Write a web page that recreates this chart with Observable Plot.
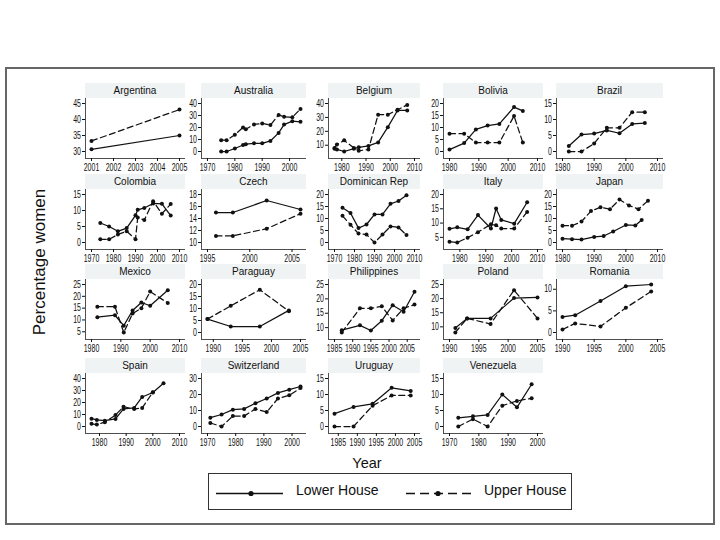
<!DOCTYPE html>
<html><head><meta charset="utf-8">
<script src="https://cdn.jsdelivr.net/npm/d3@7"></script>
<script src="https://cdn.jsdelivr.net/npm/@observablehq/plot@0.6"></script>
<style>
body{margin:0;background:#fff;}
#root{position:relative;width:720px;height:540px;font-family:"Liberation Sans",Arial,sans-serif;overflow:hidden;background:#fff;}
.outer{position:absolute;left:5px;top:67px;width:710px;height:458px;border:2px solid #666;box-sizing:border-box;}
.strip{position:absolute;background:#eff3f4;font-size:10px;text-align:center;line-height:15px;height:15px;color:#111;white-space:nowrap;}
.panel{position:absolute;}
.panel svg{max-width:none;overflow:visible;}
.ylab{position:absolute;left:40px;top:262px;transform:translate(-50%,-50%) rotate(-90deg);font-size:17px;white-space:nowrap;color:#111;}
.xlab{position:absolute;left:367px;top:463px;transform:translate(-50%,-50%);font-size:14.5px;color:#111;}
.legend{position:absolute;left:208px;top:473px;width:364px;height:37px;border:1px solid #333;box-sizing:border-box;}
.legtext{position:absolute;top:8px;font-size:14px;color:#111;}
</style></head>
<body>
<div id="root">
  <div class="outer"></div>
</div>
<script>
// ---- data: [year, % women] ----
const argentinaLower = [[2001,30.7],[2005,35.0]];
const argentinaUpper = [[2001,33.3],[2005,43.1]];
const australiaLower = [[1975,0],[1977,0],[1980,2.5],[1983,5.4],[1984,6.1],[1987,6.8],[1990,6.8],[1993,8.8],[1996,15.5],[1998,22.4],[2001,25.3],[2004,24.7]];
const australiaUpper = [[1975,9.4],[1977,9.4],[1980,14],[1983,20],[1984,18.5],[1987,22.5],[1990,23.4],[1993,22],[1996,30.5],[1998,28.9],[2001,28.5],[2004,35.5]];
const belgiumLower = [[1977,7.5],[1978,7],[1981,5.5],[1985,7.5],[1987,8.5],[1991,9.5],[1995,12],[1999,23],[2003,35],[2007,35]];
const belgiumUpper = [[1977,8],[1978,10.5],[1981,13.5],[1985,8],[1987,6],[1991,7],[1995,32],[1999,32],[2003,35.5],[2007,39]];
const boliviaLower = [[1980,0.8],[1985,3.5],[1989,9.2],[1993,10.8],[1997,11.5],[2002,18.5],[2005,16.9]];
const boliviaUpper = [[1980,7.4],[1985,7.4],[1989,3.7],[1993,3.7],[1997,3.7],[2002,14.8],[2005,3.7]];
const brazilLower = [[1982,1.7],[1986,5.3],[1990,5.6],[1994,6.6],[1998,5.7],[2002,8.6],[2006,8.9]];
const brazilUpper = [[1982,0],[1986,0],[1990,2.5],[1994,7.4],[1998,7.4],[2002,12.3],[2006,12.3]];
const colombiaLower = [[1974,6.1],[1978,5],[1982,3.5],[1986,4.5],[1990,8.5],[1991,10.2],[1994,10.8],[1998,12.2],[2002,12.1],[2006,8.4]];
const colombiaUpper = [[1974,1],[1978,1],[1982,2.5],[1986,3.5],[1990,1],[1991,7.8],[1994,7],[1998,12.9],[2002,9],[2006,12]];
const czechLower = [[1996,15],[1998,15],[2002,17],[2006,15.5]];
const czechUpper = [[1996,11.1],[1998,11.1],[2002,12.3],[2006,14.8]];
const dominicanLower = [[1974,14.5],[1978,12.3],[1982,6],[1986,7.5],[1990,11.7],[1994,11.7],[1998,16.1],[2002,17.3],[2006,19.7]];
const dominicanUpper = [[1974,11.1],[1978,7.4],[1982,3.7],[1986,3.3],[1990,0],[1994,3.3],[1998,6.7],[2002,6.3],[2006,3.1]];
const italyLower = [[1976,8],[1979,8.5],[1983,7.8],[1987,12.8],[1992,8.1],[1994,15.1],[1996,11.1],[2001,9.8],[2006,17.3]];
const italyUpper = [[1976,3.5],[1979,3.2],[1983,4.9],[1987,6.8],[1992,9.6],[1994,9.2],[1996,8.1],[2001,8.1],[2006,13.9]];
const japanLower = [[1980,1.6],[1983,1.4],[1986,1.2],[1990,2.3],[1993,2.7],[1996,4.6],[2000,7.3],[2003,7.1],[2005,9.4]];
const japanUpper = [[1980,7],[1983,7],[1986,8.7],[1989,13.1],[1992,14.7],[1995,13.9],[1998,17.9],[2001,15.4],[2004,13.9],[2007,17.4]];
const mexicoLower = [[1982,11.2],[1988,12],[1991,7.6],[1994,14],[1997,17.4],[2000,16],[2006,22.6]];
const mexicoUpper = [[1982,15.6],[1988,15.6],[1991,4.7],[1994,12.7],[1997,15],[2000,22],[2006,17.2]];
const paraguayLower = [[1989,5.6],[1993,2.5],[1998,2.5],[2003,9.2]];
const paraguayUpper = [[1989,5.6],[1993,11.1],[1998,17.8],[2003,8.9]];
const philippinesLower = [[1987,9.1],[1992,10.8],[1995,9],[1998,12.4],[2001,17.8],[2004,15.5],[2007,22.5]];
const philippinesUpper = [[1987,8.3],[1992,16.7],[1995,16.7],[1998,17.4],[2001,12.5],[2004,16.7],[2007,18]];
const polandLower = [[1991,9.6],[1993,13],[1997,13],[2001,20.2],[2005,20.4]];
const polandUpper = [[1991,8],[1993,13],[1997,11],[2001,23],[2005,13]];
const romaniaLower = [[1990,3.6],[1992,4],[1996,7.3],[2000,10.7],[2004,11.1]];
const romaniaUpper = [[1990,0.7],[1992,2.1],[1996,1.4],[2000,5.7],[2004,9.5]];
const spainLower = [[1977,6.5],[1979,5.5],[1982,4.8],[1986,6.3],[1989,14.6],[1993,15.5],[1996,24.6],[2000,28.3],[2004,36]];
const spainUpper = [[1977,2.2],[1979,1.6],[1982,3.6],[1986,9.5],[1989,16.5],[1993,14.5],[1996,15.5],[2000,28.5]];
const switzerlandLower = [[1971,5.5],[1975,7.5],[1979,10.5],[1983,11],[1987,14.5],[1991,17.5],[1995,21],[1999,23],[2003,25]];
const switzerlandUpper = [[1971,2.2],[1975,0],[1979,6.5],[1983,6.5],[1987,11],[1991,9],[1995,17.5],[1999,19.5],[2003,24]];
const uruguayLower = [[1984,4],[1989,6.1],[1994,7.1],[1999,12.1],[2004,11.1]];
const uruguayUpper = [[1984,0],[1989,0],[1994,6.5],[1999,9.7],[2004,9.7]];
const venezuelaLower = [[1973,2.7],[1978,3.2],[1983,3.6],[1988,10],[1993,6],[1998,13.2]];
const venezuelaUpper = [[1973,0],[1978,2.3],[1983,0],[1988,6.5],[1993,8],[1998,8.8]];

// ---- tick labels ----
const xt2001 = [2001,2002,2003,2004,2005];
const xt1970_2000 = [1970,1980,1990,2000];
const xt1970_2010 = [1970,1980,1990,2000,2010];
const xt1980_2010 = [1980,1990,2000,2010];
const xt1995_2005 = [1995,2000,2005];
const xt1990_2005 = [1990,1995,2000,2005];
const xt1985_2005 = [1985,1990,1995,2000,2005];
const yt30_45 = [30,35,40,45];
const yt0_40 = [0,10,20,30,40];
const yt10_40 = [10,20,30,40];
const yt0_20 = [0,5,10,15,20];
const yt0_15 = [0,5,10,15];
const yt10_18 = [10,12,14,16,18];
const yt5_20 = [5,10,15,20];
const yt5_25 = [5,10,15,20,25];
const yt10_25 = [10,15,20,25];
const yt0_10 = [0,5,10];
const yt0_30 = [0,10,20,30];

const countries = ["Argentina","Australia","Belgium","Bolivia","Brazil","Colombia","Czech","Dominican Rep","Italy","Japan","Mexico","Paraguay","Philippines","Poland","Romania","Spain","Switzerland","Uruguay","Venezuela"];
const lowerSeries = [argentinaLower,australiaLower,belgiumLower,boliviaLower,brazilLower,colombiaLower,czechLower,dominicanLower,italyLower,japanLower,mexicoLower,paraguayLower,philippinesLower,polandLower,romaniaLower,spainLower,switzerlandLower,uruguayLower,venezuelaLower];
const upperSeries = [argentinaUpper,australiaUpper,belgiumUpper,boliviaUpper,brazilUpper,colombiaUpper,czechUpper,dominicanUpper,italyUpper,japanUpper,mexicoUpper,paraguayUpper,philippinesUpper,polandUpper,romaniaUpper,spainUpper,switzerlandUpper,uruguayUpper,venezuelaUpper];
const xTicks = [xt2001,xt1970_2000,xt1980_2010,xt1980_2010,xt1980_2010,xt1970_2010,xt1995_2005,xt1970_2010,xt1980_2010,xt1980_2010,xt1980_2010,xt1990_2005,xt1985_2005,xt1990_2005,xt1990_2005,xt1980_2010,xt1970_2000,xt1985_2005,xt1970_2000];
const yTicks = [yt30_45,yt0_40,yt10_40,yt0_20,yt0_15,yt0_15,yt10_18,yt0_20,yt5_20,yt0_20,yt5_25,yt0_20,yt10_25,yt10_25,yt0_10,yt0_40,yt0_30,yt0_15,yt0_15];

// ---- layout ----
const root = document.getElementById("root");
const colLeft = [85,201,328,443,556];
const colWidth = [100,105,92,100,107];
const rowAxis = [158,249,339,433];
const FH = 60, ML = 30, MR = 16, MB = 16;

function squish(svg, k){
  svg.querySelectorAll('g[aria-label$="tick label"] text').forEach(t=>{
    const tr = t.getAttribute("transform");
    if (tr) t.setAttribute("transform", tr + ` scale(${k},1)`);
    else {
      const x = +t.getAttribute("x") || 0, y = +t.getAttribute("y") || 0;
      t.removeAttribute("x"); t.removeAttribute("y");
      t.setAttribute("transform", `translate(${x},${y}) scale(${k},1)`);
    }
  });
}

countries.forEach((name, i) => {
  const row = Math.floor(i/5), col = i%5;
  const W = colWidth[col], L = colLeft[col], A = rowAxis[row];
  const lower = lowerSeries[i].map(([year,value])=>({year,value}));
  const upper = upperSeries[i].map(([year,value])=>({year,value}));
  const all = lower.concat(upper);
  const xt = xTicks[i], yt = yTicks[i];
  const xd = [Math.min(xt[0], d3.min(all,d=>d.year)), Math.max(xt[xt.length-1], d3.max(all,d=>d.year))];
  const yd = [Math.min(yt[0], d3.min(all,d=>d.value)), Math.max(yt[yt.length-1], d3.max(all,d=>d.value))];
  const padX = 6, kx = (xd[1]-xd[0])/(W-2*padX);
  const xext = [xd[0]-padX*kx, xd[1]+padX*kx];
  const padB = 7, padT = 5, ky = (yd[1]-yd[0])/(FH-padB-padT);
  const yext = [yd[0]-padB*ky, yd[1]+padT*ky];

  const strip = document.createElement("div");
  strip.className = "strip";
  strip.style.left = L + "px"; strip.style.top = (A-75) + "px"; strip.style.width = W + "px";
  strip.textContent = name;
  root.appendChild(strip);

  const svg = Plot.plot({
    width: ML+W+MR, height: FH+MB,
    marginLeft: ML, marginRight: MR, marginTop: 0, marginBottom: MB,
    x: {domain: xext}, y: {domain: yext},
    style: {fontFamily: '"Liberation Sans", Arial, sans-serif', fontSize: "10px", color: "#111", background: "transparent", overflow: "visible"},
    marks: [
      Plot.ruleX([xext[0]], {stroke: "#222", strokeWidth: 0.8}),
      Plot.ruleY([yext[0]], {stroke: "#222", strokeWidth: 0.8}),
      Plot.axisX(xt, {tickSize: 3, tickPadding: 2, tickFormat: d => String(d), label: null, fontSize: 10}),
      Plot.axisY(yt, {tickSize: 3, tickPadding: 1.5, tickFormat: d => String(d), label: null, fontSize: 10}),
      Plot.line(lower, {x: "year", y: "value", stroke: "#111", strokeWidth: 1.25}),
      Plot.line(upper, {x: "year", y: "value", stroke: "#111", strokeWidth: 1.25, strokeDasharray: "6,3.5"}),
      Plot.dot(all, {x: "year", y: "value", r: 2, fill: "#111", stroke: "none"})
    ]
  });
  squish(svg, 0.7);
  const div = document.createElement("div");
  div.className = "panel";
  div.style.left = (L-ML) + "px"; div.style.top = (A-FH) + "px";
  div.style.width = (ML+W+MR) + "px"; div.style.height = (FH+MB) + "px";
  div.appendChild(svg);
  root.appendChild(div);
});

// axis titles
const yl = document.createElement("div"); yl.className = "ylab"; yl.textContent = "Percentage women"; root.appendChild(yl);
const xl = document.createElement("div"); xl.className = "xlab"; xl.textContent = "Year"; root.appendChild(xl);

// legend
const leg = document.createElement("div");
leg.className = "legend";
leg.innerHTML = `
<svg width="364" height="37" style="position:absolute;left:0;top:0">
  <line x1="7" x2="74" y1="19.5" y2="19.5" stroke="#111" stroke-width="1.6"/>
  <circle cx="42" cy="19.5" r="2.6" fill="#111"/>
  <line x1="197" x2="265" y1="19.5" y2="19.5" stroke="#111" stroke-width="1.6" stroke-dasharray="9,5"/>
  <circle cx="229" cy="19.5" r="2.6" fill="#111"/>
</svg>
<div class="legtext" style="left:87px">Lower House</div>
<div class="legtext" style="left:275px">Upper House</div>`;
root.appendChild(leg);
</script>
</body></html>
